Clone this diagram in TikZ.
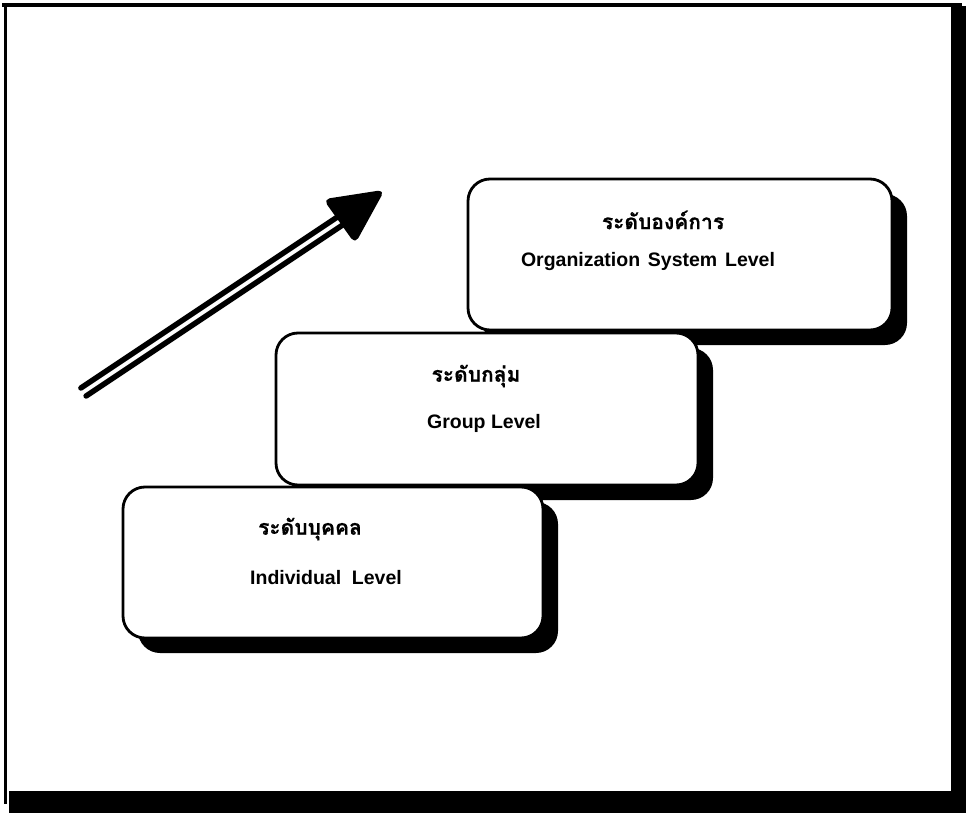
\documentclass[tikz,border=0pt]{standalone}
\usepackage{fontspec}
\setmainfont{Liberation Sans}
\newfontfamily\thaifont[Script=Thai, FakeBold=0.6]{Loma}
\usetikzlibrary{shadows}
\tikzset{
  lvlbox/.style={draw=black, line width=2.8pt, rounded corners=22pt, fill=white,
    minimum width=424pt, minimum height=151pt, inner sep=0pt,
    drop shadow={shadow xshift=15pt, shadow yshift=-15pt, opacity=1, fill=black}},
  thaitxt/.style={font=\thaifont\bfseries\fontsize{21pt}{24pt}\selectfont, inner sep=0pt},
  entxt/.style={font=\bfseries\fontsize{19.5pt}{22pt}\selectfont, inner sep=0pt},
  framebar/.style={fill=black, draw=none},
  shaftline/.style={draw=black, line width=5.5pt, line cap=round},
  arrowhead/.style={fill=black, draw=black, line width=2pt, rounded corners=5pt, line join=round}
}
\begin{document}
\begin{tikzpicture}[x=1pt, y=-1pt]
\useasboundingbox (0,0) rectangle (966,813);
\fill[white] (0,0) rectangle (966,813);
% frame
\path[framebar] (2,3) rectangle (962,7);
\path[framebar] (4,3) rectangle (7,804);
\path[framebar] (951,6) rectangle (966,813);
\path[framebar] (9,791) rectangle (966,813);
% arrow
\coordinate (tailA) at (80.9,388.0);
\coordinate (endA) at (337.4,217.0);
\coordinate (tailB) at (86.1,396.0);
\coordinate (endB) at (342.6,225.0);
\coordinate (tip) at (383,191);
\coordinate (barbl) at (325,200);
\coordinate (barbr) at (355,242);
\draw[shaftline] (tailA) -- (endA);
\draw[shaftline] (tailB) -- (endB);
\path[arrowhead] (tip) -- (barbl) -- (barbr) -- cycle;
% boxes
\node[lvlbox] (org) at (680,254.5) {};
\node[thaitxt] (orgth) at (663,220) {ระดับองค์การ};
\node[entxt] (orgen) at (648,262) {Organization\hspace{0.4em}System\hspace{0.4em}Level};
\node[lvlbox, minimum width=422pt, minimum height=152pt] (grp) at (487,409) {};
\node[thaitxt] (grpth) at (476,376) {ระดับกลุ่ม};
\node[entxt] (grpen) at (484,423) {Group Level};
\node[lvlbox, minimum width=420pt] (ind) at (333,562.5) {};
\node[thaitxt] (indth) at (310,529) {ระดับบุคคล};
\node[entxt] (inden) at (326,578) {Individual\hspace{0.55em}Level};
\end{tikzpicture}
\end{document}
